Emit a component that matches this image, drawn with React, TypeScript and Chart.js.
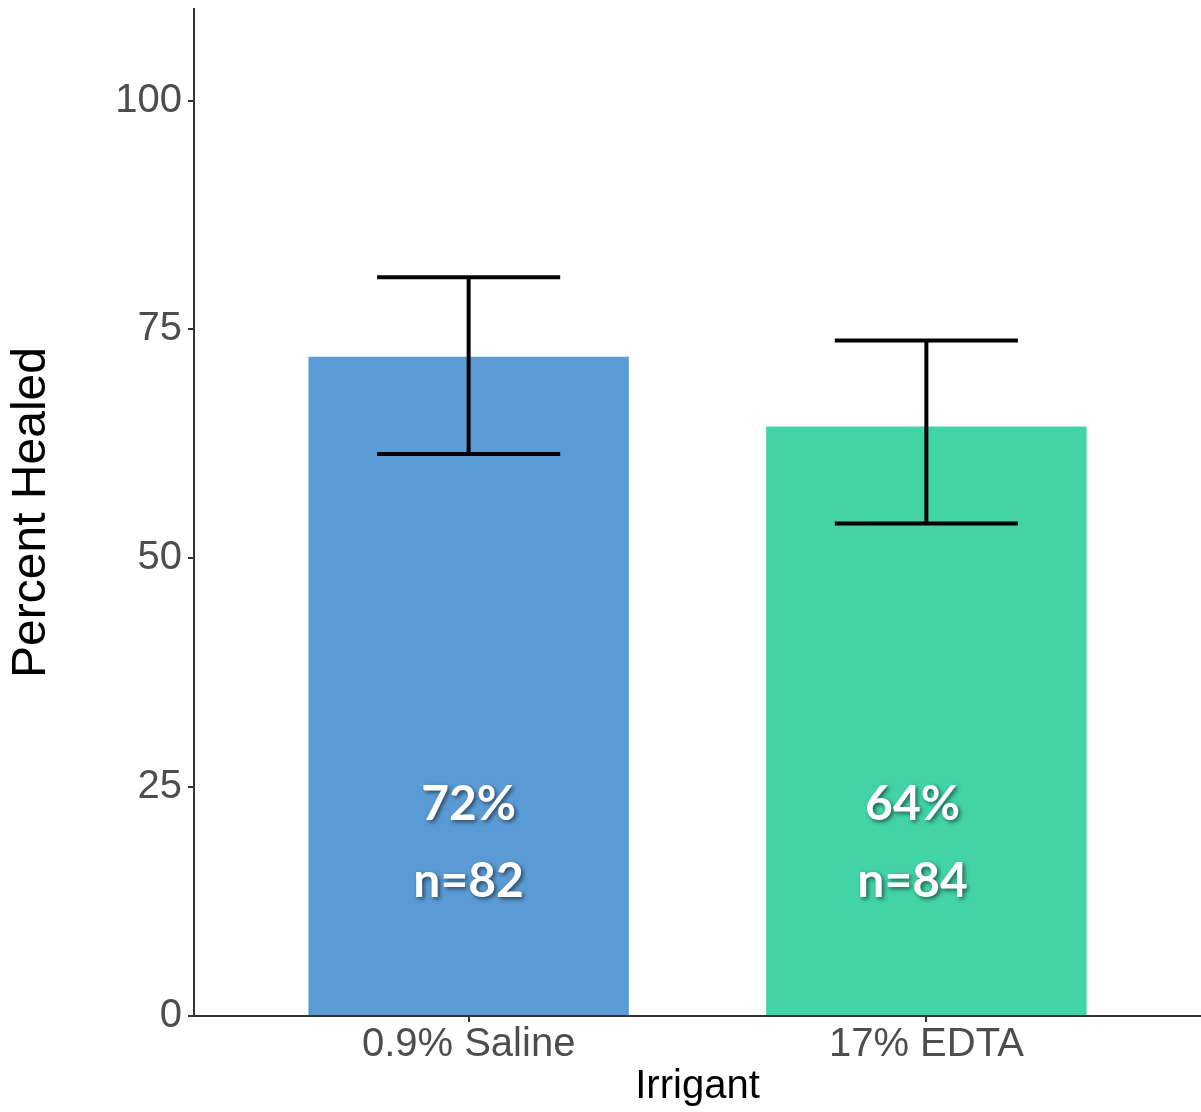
import { useEffect, useRef } from "react";
import { Chart, registerables } from "chart.js";

Chart.register(...registerables);

// ---- data ----
const categories = ["0.9% Saline", "17% EDTA"];
const percentHealed = [72.0, 64.4];
const errorLow = [61.4, 53.8];
const errorHigh = [80.7, 73.8];
const pctLabels = ["72%", "64%"];
const nLabels = ["n=82", "n=84"];
const barColors = ["#5B9BD5", "#42D3A6"];
const yTicks = [0, 25, 50, 75, 100];

// ---- styling constants ----
const Y_MAX = 110;
const CAP_HALF = 0.2; // in category units
const LABEL_SHIFT = [0, -0.03]; // in category units
const PCT_BASELINE = 21.4; // data units
const N_BASELINE = 13.0; // data units
const TICK_FONT = "'Liberation Sans', Arial, sans-serif";

const overlayPlugin = {
  id: "overlay",
  afterDatasetsDraw(chart: any) {
    const { ctx } = chart;
    const x = chart.scales.x;
    const y = chart.scales.y;
    ctx.save();
    // error bars
    ctx.strokeStyle = "#000";
    ctx.lineWidth = 4;
    ctx.lineCap = "butt";
    categories.forEach((_, i) => {
      const cx = x.getPixelForValue(i + 1);
      const half = x.getPixelForValue(i + 1 + CAP_HALF) - cx;
      const yh = y.getPixelForValue(errorHigh[i]);
      const yl = y.getPixelForValue(errorLow[i]);
      ctx.beginPath();
      ctx.moveTo(cx, yh);
      ctx.lineTo(cx, yl);
      ctx.moveTo(cx - half, yh);
      ctx.lineTo(cx + half, yh);
      ctx.moveTo(cx - half, yl);
      ctx.lineTo(cx + half, yl);
      ctx.stroke();
    });
    // in-bar labels
    ctx.font = "bold 48px Lato, 'Open Sans', sans-serif";
    ctx.textAlign = "center";
    ctx.textBaseline = "alphabetic";
    ctx.fillStyle = "#ffffff";
    ctx.shadowColor = "rgba(0,0,0,0.55)";
    ctx.shadowBlur = 4;
    ctx.shadowOffsetX = 2;
    ctx.shadowOffsetY = 2;
    categories.forEach((_, i) => {
      const lx = x.getPixelForValue(i + 1 + LABEL_SHIFT[i]);
      ctx.fillText(pctLabels[i], lx, y.getPixelForValue(PCT_BASELINE));
      ctx.fillText(nLabels[i], lx, y.getPixelForValue(N_BASELINE));
    });
    ctx.restore();
  },
};

export default function App() {
  const canvasRef = useRef<HTMLCanvasElement | null>(null);

  useEffect(() => {
    const canvas = canvasRef.current;
    if (!canvas) return;
    const chart = new Chart(canvas, {
      type: "bar",
      data: {
        datasets: [
          {
            data: percentHealed.map((v, i) => ({ x: i + 1, y: v })),
            backgroundColor: barColors,
            borderWidth: 0,
            categoryPercentage: 1,
            barPercentage: 0.7,
          } as any,
        ],
      },
      options: {
        responsive: false,
        animation: false,
        devicePixelRatio: 1,
        layout: { padding: { top: 9, right: 0, left: 0, bottom: 0 } },
        plugins: {
          legend: { display: false },
          tooltip: { enabled: false },
        },
        scales: {
          x: {
            type: "linear",
            min: 0.4,
            max: 2.6,
            offset: false,
            afterBuildTicks: (scale: any) => {
              scale.ticks = categories.map((_, i) => ({ value: i + 1 }));
            },
            afterFit: (scale: any) => {
              scale.height = 96;
              scale.paddingLeft = 0;
              scale.paddingRight = 0;
            },
            ticks: {
              autoSkip: false,
              maxRotation: 0,
              padding: 3,
              color: "#4D4D4D",
              font: { family: TICK_FONT, size: 40, lineHeight: 1 },
              callback: (v: any) => categories[Math.round(Number(v)) - 1] ?? "",
            },
            grid: {
              offset: false,
              drawOnChartArea: false,
              drawTicks: true,
              tickLength: 6,
              color: "#333333",
              lineWidth: 2,
            },
            border: { display: true, color: "#333333", width: 2 },
            title: {
              display: true,
              text: "Irrigant",
              color: "#000000",
              font: { family: TICK_FONT, size: 40, lineHeight: 1 },
              padding: { top: 0, bottom: 5 },
            },
          },
          y: {
            type: "linear",
            min: 0,
            max: Y_MAX,
            afterBuildTicks: (scale: any) => {
              scale.ticks = yTicks.map((v) => ({ value: v }));
            },
            afterFit: (scale: any) => {
              scale.width = 194;
              scale.paddingTop = 0;
              scale.paddingBottom = 0;
            },
            ticks: {
              padding: 6,
              color: "#4D4D4D",
              font: { family: TICK_FONT, size: 40, lineHeight: 1 },
            },
            grid: {
              drawOnChartArea: false,
              drawTicks: true,
              tickLength: 6,
              color: "#333333",
              lineWidth: 2,
            },
            border: { display: true, color: "#333333", width: 2 },
            title: {
              display: true,
              text: "Percent Healed",
              color: "#000000",
              font: { family: TICK_FONT, size: 48, lineHeight: 1 },
              padding: { top: 8, bottom: 0 },
            },
          },
        },
      },
      plugins: [overlayPlugin],
    });
    return () => chart.destroy();
  }, []);

  return (
    <div
      style={{
        position: "fixed",
        left: 0,
        top: 0,
        width: 1201,
        height: 1112,
        background: "#ffffff",
      }}
    >
      <canvas ref={canvasRef} width={1201} height={1112} style={{ display: "block" }} />
    </div>
  );
}
